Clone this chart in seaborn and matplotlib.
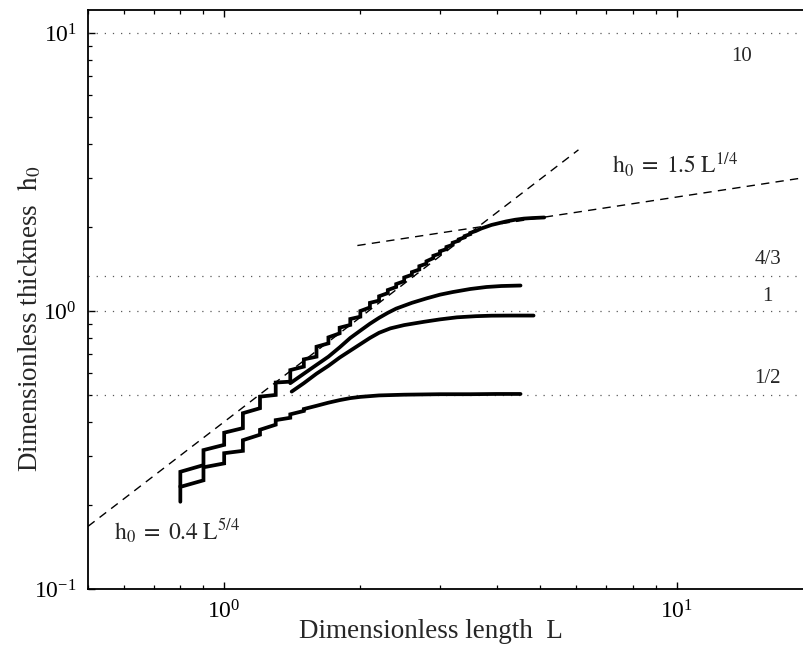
import numpy as np
import pandas as pd
import matplotlib
matplotlib.use("Agg")
import matplotlib.pyplot as plt
import seaborn as sns

# ---------------- data ----------------
# curve A (plateau ~2.17): staircase part
A_step_L = [0.8, 0.9, 1.0, 1.1, 1.2, 1.3, 1.4, 1.5, 1.6, 1.7, 1.8, 1.9, 2.0,
            2.1, 2.2, 2.3, 2.4, 2.5, 2.6, 2.7, 2.8, 2.9, 3.0, 3.1, 3.2, 3.3, 3.4, 3.5]
A_step_lo = [0.233, 0.279, 0.330, 0.379, 0.447, 0.499, 0.557, 0.631, 0.685, 0.765, 0.831, 0.891, 0.954,
             1.03, 1.09, 1.16, 1.22, 1.28, 1.35, 1.41, 1.48, 1.55, 1.61, 1.67, 1.73, 1.79, 1.84, 1.89]
A_step_hi = [0.264, 0.316, 0.365, 0.429, 0.492, 0.553, 0.613, 0.670, 0.744, 0.804, 0.871, 0.936, 1.000,
             1.07, 1.13, 1.19, 1.25, 1.32, 1.38, 1.45, 1.51, 1.58, 1.64, 1.70, 1.76, 1.81, 1.86, 1.91]
A_tail_L = [3.6, 3.7, 3.8, 3.9, 4.0, 4.2, 4.4, 4.6, 4.8, 5.1]
A_tail_h = [1.94, 1.98, 2.01, 2.04, 2.06, 2.10, 2.13, 2.15, 2.16, 2.17]

# curve B (plateau 1/2)
B_step_L = [0.8, 0.9, 1.0, 1.1, 1.2, 1.3, 1.4, 1.5]
B_step_lo = [0.206, 0.246, 0.283, 0.314, 0.359, 0.390, 0.413, 0.437]
B_step_hi = [0.233, 0.274, 0.308, 0.343, 0.374, 0.405, 0.425, 0.444]
B_tail_L = [1.6, 1.7, 1.8, 1.9, 2.0, 2.2, 2.5, 3.0, 3.5, 4.0, 4.52]
B_tail_h = [0.456, 0.468, 0.478, 0.486, 0.491, 0.497, 0.500, 0.502, 0.502, 0.503, 0.503]

# curve C (plateau ~1.24)
C_L = [1.4, 1.5, 1.6, 1.7, 1.8, 1.9, 2.0, 2.1, 2.2, 2.3, 2.4, 2.6, 2.8, 3.0, 3.2, 3.5, 3.8, 4.1, 4.52]
C_h = [0.55, 0.595, 0.64, 0.685, 0.74, 0.80, 0.85, 0.90, 0.945, 0.985, 1.02, 1.07, 1.11, 1.145, 1.17,
       1.20, 1.22, 1.23, 1.235]

# curve D (plateau ~0.96)
D_L = [1.41, 1.5, 1.6, 1.7, 1.8, 1.9, 2.0, 2.1, 2.2, 2.33, 2.5, 2.77, 3.0, 3.27, 3.6, 3.9, 4.3, 4.83]
D_h = [0.513, 0.55, 0.595, 0.635, 0.68, 0.72, 0.76, 0.80, 0.835, 0.866, 0.89, 0.915, 0.933, 0.949,
       0.958, 0.962, 0.963, 0.963]

# dashed power-law guides (end points)
steep_L = [0.5, 6.07]
steep_h = [0.168, 3.80]
flat_L = [1.97, 20.0]
flat_h = [1.72, 3.05]

# dotted reference levels and their labels
ref_levels = [10.0, 4.0 / 3.0, 1.0, 0.5]
ref_labels = ["10", "4/3", "1", "1/2"]


def stair(Ls, lo, hi, tailL, tailh):
    xs, ys = [], []
    for L, a, b in zip(Ls, lo, hi):
        xs += [L, L]
        ys += [a, b]
    return xs + list(tailL), ys + list(tailh)


frames = []
for name, (xs, ys) in {
    "A": stair(A_step_L, A_step_lo, A_step_hi, A_tail_L, A_tail_h),
    "B": stair(B_step_L, B_step_lo, B_step_hi, B_tail_L, B_tail_h),
    "C": (C_L, C_h),
    "D": (D_L, D_h),
}.items():
    frames.append(pd.DataFrame({"L": xs, "h": ys, "curve": name,
                                "order": np.arange(len(xs))}))
df = pd.concat(frames, ignore_index=True)

# ---------------- style ----------------
sns.set_style("ticks")
plt.rcParams["font.family"] = ["Liberation Serif", "DejaVu Serif"]
plt.rcParams["mathtext.fontset"] = "stix"

W, H = 804, 656
fig = plt.figure(figsize=(W / 100, H / 100), dpi=100)
ax_left, ax_right, ax_top, ax_bot = 88, 812.7, 10, 589
ax = fig.add_axes([ax_left / W, 1 - ax_bot / H, (ax_right - ax_left) / W, (ax_bot - ax_top) / H])
ax.set_xscale("log")
ax.set_yscale("log")

# dotted reference lines
for lev in ref_levels:
    ax.axhline(lev, color="0.35", lw=0.9, linestyle=(0, (1, 5.5)), zorder=1)

# dashed guides
sns.lineplot(x=steep_L, y=steep_h, ax=ax, color="black", lw=1.0,
             linestyle=(0, (6, 4.5)), legend=False)
sns.lineplot(x=flat_L, y=flat_h, ax=ax, color="black", lw=1.0,
             linestyle=(0, (6, 4.5)), legend=False)

# data curves
sns.lineplot(data=df, x="L", y="h", units="curve", estimator=None, sort=False,
             color="black", lw=2.7, ax=ax, legend=False,
             solid_capstyle="round", solid_joinstyle="miter")

ax.set_xlim(0.5, 20)
ax.set_ylim(0.1, 12.1)

# spines / ticks
for s in ["left", "bottom", "top"]:
    ax.spines[s].set_linewidth(1.3)
    ax.spines[s].set_color("black")
ax.spines["right"].set_visible(False)
ax.tick_params(which="both", direction="in", top=True, right=False,
               colors="black", labelsize=17)
ax.tick_params(which="major", length=5, width=1.0, pad=8)
ax.tick_params(which="minor", length=2.6, width=0.9)
ax.set_xticks([1, 10])
ax.set_yticks([0.1, 1, 10])
ax.xaxis.set_major_formatter(matplotlib.ticker.LogFormatterSciNotation())
ax.yaxis.set_major_formatter(matplotlib.ticker.LogFormatterSciNotation())

ax.set_xlabel(r"Dimensionless length  L", fontsize=19.5)
ax.set_ylabel(r"Dimensionless thickness  $\mathrm{h_0}$", fontsize=19.5)
aw, ah = ax_right - ax_left, ax_bot - ax_top
ax.xaxis.set_label_coords((431 - ax_left) / aw, (ax_bot - 632) / ah)
ax.xaxis.label.set_va("center")
ax.yaxis.set_label_coords((29 - ax_left) / aw, (ax_bot - 319) / ah)
ax.yaxis.label.set_va("center")

# annotations
ax.text(7.2, 3.35, r"$\mathrm{h_0\;=\;1.5\;L^{1/4}}$", fontsize=17, va="center", ha="left")
ax.text(0.57, 0.161, r"$\mathrm{h_0\;=\;0.4\;L^{5/4}}$", fontsize=17, va="center", ha="left")
label_pos = [(13.9, 8.2), (15.9, 1.53), (15.9, 1.13), (15.9, 0.57)]
for (lx, ly), t in zip(label_pos, ref_labels):
    ax.text(lx, ly, t, fontsize=15, ha="center", va="center")

fig.savefig("out.png", dpi=100)
